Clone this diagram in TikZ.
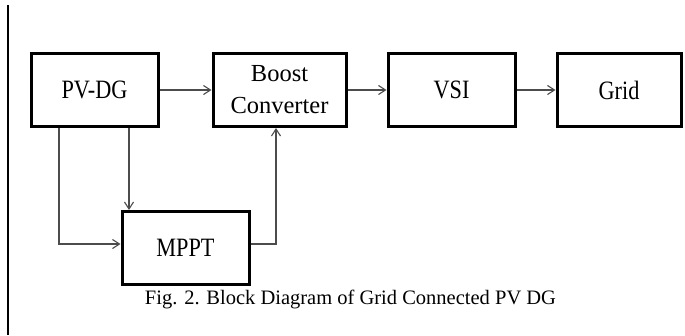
\documentclass[tikz,border=0pt]{standalone}
\usepackage{fontspec}
\setmainfont{Liberation Serif}
\newfontfamily\boxfont[FakeStretch=0.84]{Liberation Serif}
\newfontfamily\boxfontw{Liberation Serif}
\usetikzlibrary{arrows.meta}
\begin{document}
\begin{tikzpicture}[x=1pt,y=-1pt,
  blk/.style={draw=black,line width=3pt,minimum width=127pt,minimum height=73pt,inner sep=0pt,anchor=center,
    font=\boxfont\fontsize{26.5}{30}\selectfont},
  conn/.style={draw=black!70,line width=1.3pt,-{Straight Barb[length=7pt,width=9pt,line width=1.1pt]}},
  plain/.style={draw=black!70,line width=1.3pt}]
\useasboundingbox (0,0) rectangle (685,335);
\draw[line width=2pt] (8,5) -- (8,335);
\node[blk] (pv) at (94.5,90) {PV-DG};
\node[blk,minimum width=133pt,font=\boxfontw\fontsize{24.5}{32}\selectfont,align=center] (boost) at (279.5,90) {Boost\\Converter};
\node[blk] (vsi) at (451.5,90) {VSI};
\node[blk,minimum width=124pt] (grid) at (619,90) {Grid};
\node[blk] (mppt) at (185.5,248) {MPPT};
\coordinate (a) at (59,128);
\coordinate (b) at (59,244);
\coordinate (c) at (129,128);
\coordinate (d) at (276,244);
\draw[conn] (pv.east) -- (boost.west);
\draw[conn] (boost.east) -- (vsi.west);
\draw[conn] (vsi.east) -- (grid.west);
\draw[conn] (a) -- (b) -- (b -| mppt.west);
\draw[conn] (c) -- (c |- mppt.north);
\draw[conn] (mppt.east |- d) -- (d) -- (d |- boost.south);
\node[font=\fontsize{20.5}{24}\selectfont,anchor=base,inner sep=1pt] (cap) at (350.5,304) {Fig. 2. Block Diagram of Grid Connected PV DG};
\end{tikzpicture}
\end{document}
